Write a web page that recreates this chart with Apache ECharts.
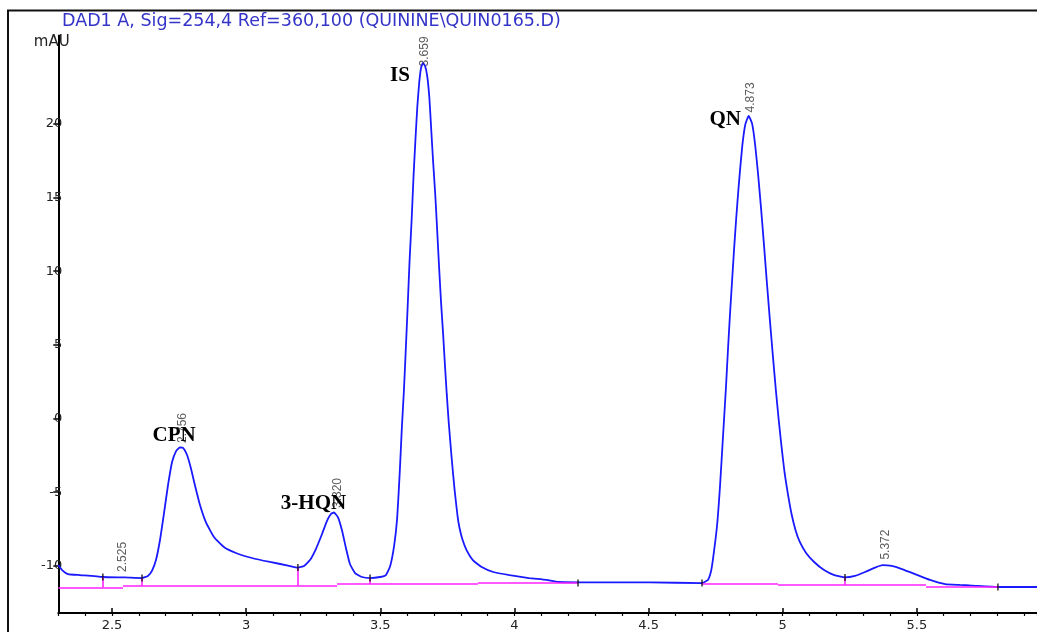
<!DOCTYPE html>
<html><head><meta charset="utf-8">
<script src="https://cdn.jsdelivr.net/npm/echarts@6/dist/echarts.min.js"></script>
<style>html,body{margin:0;padding:0;background:#fff}#c{width:1037px;height:632px}</style>
</head><body><div id="c"></div>
<script>
// ---- data (retention time in min, signal in mAU) ----
const sigTime = [2.300,2.314,2.336,2.381,2.466,2.548,2.612,2.634,2.649,2.664,2.679,2.694,2.709,2.724,2.739,2.753,2.765,2.780,2.794,2.809,2.828,2.850,2.880,2.917,2.962,3.022,3.089,3.156,3.193,3.216,3.238,3.260,3.283,3.301,3.316,3.327,3.342,3.357,3.372,3.387,3.406,3.432,3.462,3.499,3.521,3.537,3.552,3.563,3.573,3.580,3.588,3.595,3.602,3.609,3.617,3.624,3.631,3.638,3.645,3.652,3.659,3.667,3.675,3.683,3.690,3.697,3.705,3.712,3.719,3.726,3.734,3.741,3.748,3.755,3.766,3.777,3.788,3.795,3.806,3.822,3.845,3.878,3.921,3.982,4.054,4.119,4.164,4.319,4.505,4.699,4.721,4.732,4.740,4.755,4.766,4.777,4.788,4.796,4.803,4.811,4.819,4.827,4.835,4.843,4.851,4.861,4.873,4.886,4.897,4.908,4.919,4.930,4.941,4.952,4.963,4.974,4.985,4.996,5.007,5.019,5.033,5.048,5.064,5.087,5.117,5.154,5.192,5.232,5.269,5.307,5.344,5.372,5.407,5.444,5.493,5.549,5.605,5.661,5.705,5.802,5.948];
const sigValue = [-9.95,-10.29,-10.56,-10.63,-10.76,-10.79,-10.83,-10.69,-10.35,-9.61,-8.25,-6.42,-4.51,-2.95,-2.21,-1.97,-2.00,-2.48,-3.36,-4.51,-5.87,-7.03,-8.04,-8.72,-9.13,-9.47,-9.74,-9.98,-10.12,-10.01,-9.61,-8.86,-7.84,-6.96,-6.48,-6.38,-6.69,-7.57,-8.79,-9.88,-10.49,-10.76,-10.83,-10.76,-10.63,-10.01,-8.59,-6.75,-3.50,-0.78,1.87,4.65,7.57,10.62,13.54,16.46,18.91,21.15,22.78,23.80,24.14,23.93,23.25,21.76,19.59,17.41,15.17,12.80,10.35,8.04,5.80,3.63,1.60,-0.24,-2.68,-4.85,-6.62,-7.40,-8.20,-8.95,-9.61,-10.08,-10.42,-10.63,-10.83,-10.96,-11.10,-11.13,-11.13,-11.17,-10.96,-10.42,-9.54,-7.30,-4.65,-1.32,2.00,4.72,6.96,9.30,11.60,13.70,15.60,17.30,18.80,20.00,20.54,20.00,18.60,16.60,14.30,11.80,9.20,6.70,4.30,2.00,-0.10,-2.00,-3.70,-5.10,-6.50,-7.60,-8.40,-9.13,-9.74,-10.29,-10.63,-10.79,-10.69,-10.42,-10.12,-9.95,-10.01,-10.22,-10.56,-10.96,-11.24,-11.30,-11.34,-11.44,-11.44];

// integration baseline segments: start time, end time, level
const baseStart = [2.300, 2.541, 3.339, 3.864, 4.699, 4.982, 5.534];
const baseEnd   = [2.541, 3.339, 3.864, 4.237, 4.982, 5.534, 5.806];
const baseLevel = [-11.46, -11.34, -11.24, -11.13, -11.24, -11.30, -11.44];

// peak boundary drop lines: time, signal level, baseline level
const dropTime = [2.466, 2.612, 3.193, 3.462, 5.232];
const dropTop  = [-10.76, -10.83, -10.12, -10.83, -10.79];
const dropBot  = [-11.46, -11.34, -11.34, -11.24, -11.30];

// integration event markers
const markTime  = [2.466, 2.612, 3.193, 3.462, 4.237, 4.699, 5.232, 5.802];
const markValue = [-10.76, -10.83, -10.12, -10.83, -11.17, -11.17, -10.79, -11.44];

// retention-time labels and apex heights
const peakRT     = [2.525, 2.756, 3.320, 3.659, 4.873, 5.372];
const peakHeight = [-10.79, -1.97, -6.38, 24.14, 20.54, -9.95];

// compound names and the peak they belong to
const compNames = ['CPN', '3-HQN', 'IS', 'QN'];
const compPeak  = [1, 2, 3, 4];

const xTicksMajor = 0.5, yTicksMajor = 5;

// ---- styling / layout (pixel offsets) ----
const rtOffset = [[5,-5],[3,-4],[6,-4],[2.5,4],[3,-3],[3.5,-5]];
const nameOffset = [[-6,-11.5],[-18,-8.5],[-22.5,13],[-23,4]];

const chart = echarts.init(document.getElementById('c'), null, {renderer:'canvas'});
const sans = 'DejaVu Sans';
const X0 = 58.3, TOP = 35.52, BOT = 19.06;
const clear = 'rgba(0,0,0,0)';

const option = {
  backgroundColor: '#fff',
  animation: false,
  title: {
    text: 'DAD1 A, Sig=254,4 Ref=360,100 (QUININE\\QUIN0165.D)',
    left: 62, top: 12, padding: 0,
    textStyle: {color:'#3434c8', fontFamily: sans, fontSize: 17.5, fontWeight:'normal'}
  },
  graphic: [{
    type:'rect', silent:true, z:-10,
    shape:{x:8, y:10.5, width:1100, height:700},
    style:{fill:'none', stroke:'#111', lineWidth:2}
  }],
  grid: [
    {left: X0, right: 0, top: TOP, bottom: BOT},
    {left: X0, right: 0, top: 418.5 - 20*14.73, bottom: 632 - (418.5 + 10*14.73)},
    {left: 112, right: 0, top: TOP, bottom: BOT}
  ],
  xAxis: [
    {gridIndex:0, type:'value', min:2.3, max:5.9476, interval:0.1,
     axisLine:{show:true, onZero:false, lineStyle:{color:'#000', width:2}},
     axisTick:{show:true, length:3, lineStyle:{color:'#000', width:1.2}},
     axisLabel:{show:false}, splitLine:{show:false}},
    {gridIndex:1, type:'value', min:2.3, max:5.9476, show:false},
    {gridIndex:2, type:'value', min:2.5, max:5.9476, interval:xTicksMajor,
     axisLine:{show:false, onZero:false},
     axisTick:{show:true, length:6, lineStyle:{color:'#000', width:1.5}},
     axisLabel:{margin:11, fontFamily:sans, fontSize:13, color:'#222', showMaxLabel:false},
     splitLine:{show:false}}
  ],
  yAxis: [
    {gridIndex:0, type:'value', min:-13.2, max:26,
     axisLine:{show:true, onZero:false, lineStyle:{color:'#000', width:2}},
     axisTick:{show:false}, axisLabel:{show:false}, splitLine:{show:false},
     name:'mAU', nameLocation:'end', nameGap:-7,
     nameTextStyle:{fontFamily:sans, fontSize:15, color:'#222', align:'center', verticalAlign:'middle', padding:[0,13,0,0]}},
    {gridIndex:1, type:'value', min:-10, max:20, interval:yTicksMajor,
     axisLine:{show:false, onZero:false},
     axisTick:{show:true, length:5, lineStyle:{color:'#000', width:1.5}},
     axisLabel:{margin:-4, fontFamily:sans, fontSize:13, color:'#222'},
     splitLine:{show:false}},
    {gridIndex:2, type:'value', min:-13.2, max:26, show:false}
  ],
  series: [
    {
      name:'signal', type:'line', xAxisIndex:0, yAxisIndex:0,
      data: sigTime.map((t,i)=>[t, sigValue[i]]),
      showSymbol:false, smooth:0.15, z:2,
      lineStyle:{color:'#1a1aff', width:1.8}
    },
    {
      name:'baseline', type:'lines', coordinateSystem:'cartesian2d', xAxisIndex:0, yAxisIndex:0, z:3,
      data: baseStart.map((s,i)=>({coords:[[s, baseLevel[i]],[baseEnd[i], baseLevel[i]]]})),
      lineStyle:{color:'#ff22ff', width:1.6, opacity:1}
    },
    {
      name:'drops', type:'lines', coordinateSystem:'cartesian2d', xAxisIndex:0, yAxisIndex:0, z:3,
      data: dropTime.map((t,i)=>({coords:[[t, dropTop[i]],[t, dropBot[i]]]})),
      lineStyle:{color:'#ff22ff', width:1.6, opacity:1}
    },
    {
      name:'marks', type:'scatter', xAxisIndex:0, yAxisIndex:0, z:4,
      data: markTime.map((t,i)=>[t, markValue[i]]),
      symbol:'rect', symbolSize:[1.5,7], itemStyle:{color:'#000'}
    },
    {
      name:'rt', type:'scatter', xAxisIndex:0, yAxisIndex:0, z:5,
      symbolSize:1, itemStyle:{color:clear},
      data: peakRT.map((t,i)=>({
        value:[t, peakHeight[i]],
        label:{show:true, formatter: t.toFixed(3), position: rtOffset[i], rotate:90,
               align:'left', verticalAlign:'middle',
               fontFamily:'Liberation Sans', fontSize:12, color:'#333'}
      }))
    },
    {
      name:'names', type:'scatter', xAxisIndex:0, yAxisIndex:0, z:6,
      symbolSize:1, itemStyle:{color:clear},
      data: compNames.map((n,i)=>({
        value:[peakRT[compPeak[i]], peakHeight[compPeak[i]]],
        label:{show:true, formatter:n, position:nameOffset[i], align:'center', verticalAlign:'middle',
               fontFamily:'Liberation Serif', fontWeight:'bold', fontSize:21, color:'#000', opacity:1}
      }))
    }
  ]
};
chart.setOption(option);
</script>
</body></html>
